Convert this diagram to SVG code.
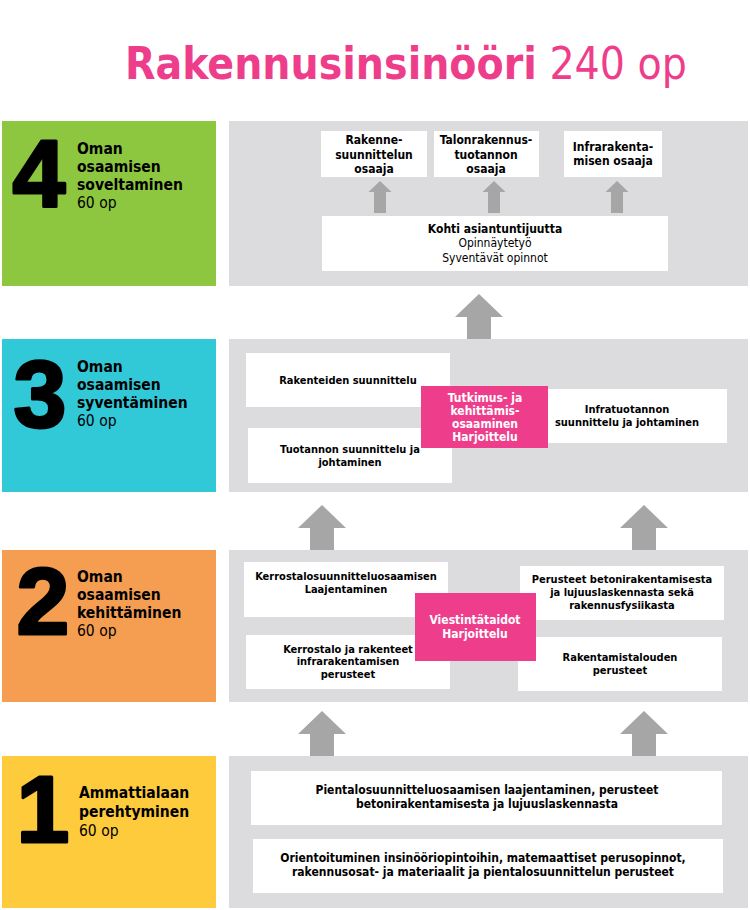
<svg xmlns="http://www.w3.org/2000/svg" xmlns:xlink="http://www.w3.org/1999/xlink" width="750" height="910" viewBox="0 0 750 910">
<style>
text{font-family:"DejaVu Sans Condensed","DejaVu Sans",Verdana,sans-serif;fill:#000}
.b{font-weight:bold}
.c{text-anchor:middle}
.t11{font-size:11px;font-weight:bold}
.t12{font-size:12px}
.pk{fill:#fff;font-size:12px;font-weight:bold}
.lvl{font-size:15.5px}
.dig{font-family:"Liberation Sans",Arial,sans-serif;font-weight:bold;font-size:95px;text-anchor:middle;stroke:#000;stroke-width:3;stroke-linejoin:round}
.panel{fill:#dcdcde}
.wb{fill:#fff}
.pink{fill:#ee3e8b}
.arr{fill:#a6a6a6}
</style>
<defs>
<path id="bigArrow" d="M0,0 L24,23 L12,23 L12,45 L-12,45 L-12,23 L-24,23 Z"/>
<path id="smallArrow" d="M0,0 L11.5,11 L6,11 L6,32 L-6,32 L-6,11 L-11.5,11 Z"/>
</defs>
<rect width="750" height="910" fill="#fff"/>

<g id="title">
<text x="125" y="79" style="font-size:44px;fill:#ee3e8b"><tspan font-weight="bold">Rakennusinsinööri</tspan> 240 op</text>
</g>

<!-- Level 4 -->
<g id="level4">
<rect x="2" y="121" width="214" height="165" fill="#8dc63f"/>
<text class="dig" x="39" y="206">4</text>
<text class="lvl b" x="77" y="154">Oman</text>
<text class="lvl b" x="77" y="172">osaamisen</text>
<text class="lvl b" x="77" y="190">soveltaminen</text>
<text class="lvl" x="77" y="208">60 op</text>
</g>
<rect id="panel4" class="panel" x="229" y="121" width="519" height="165"/>
<g id="rakennesuunnittelun">
<rect class="wb" x="321" y="131" width="106" height="46"/>
<text class="t12 b c" x="374" y="144">Rakenne-</text>
<text class="t12 b c" x="374" y="159">suunnittelun</text>
<text class="t12 b c" x="374" y="173">osaaja</text>
</g>
<g id="talonrakennus">
<rect class="wb" x="434" y="131" width="105" height="46"/>
<text class="t12 b c" x="486" y="144">Talonrakennus-</text>
<text class="t12 b c" x="486" y="159">tuotannon</text>
<text class="t12 b c" x="486" y="173">osaaja</text>
</g>
<g id="infrarakentaminen">
<rect class="wb" x="564" y="131" width="98" height="46"/>
<text class="t12 b c" x="613" y="151">Infrarakenta-</text>
<text class="t12 b c" x="613" y="165">misen osaaja</text>
</g>
<g id="kohti">
<rect class="wb" x="322" y="216" width="346" height="55"/>
<text class="t12 b c" x="495" y="233">Kohti asiantuntijuutta</text>
<text class="t12 c" x="495" y="247">Opinnäytetyö</text>
<text class="t12 c" x="495" y="262">Syventävät opinnot</text>
</g>

<!-- Level 3 -->
<g id="level3">
<rect x="2" y="339" width="214" height="153" fill="#31c8d8"/>
<text class="dig" x="40" y="427">3</text>
<text class="lvl b" x="77" y="372">Oman</text>
<text class="lvl b" x="77" y="390">osaamisen</text>
<text class="lvl b" x="77" y="408">syventäminen</text>
<text class="lvl" x="77" y="426">60 op</text>
</g>
<rect id="panel3" class="panel" x="229" y="339" width="519" height="153"/>
<g id="rakenteiden">
<rect class="wb" x="246" y="353" width="204" height="54"/>
<text class="t11 c" x="348" y="384">Rakenteiden suunnittelu</text>
</g>
<g id="tuotannon">
<rect class="wb" x="248" y="428" width="204" height="55"/>
<text class="t11 c" x="350" y="453">Tuotannon suunnittelu ja</text>
<text class="t11 c" x="350" y="466">johtaminen</text>
</g>
<g id="infratuotannon">
<rect class="wb" x="545" y="389" width="182" height="54"/>
<text class="t11 c" x="627" y="413">Infratuotannon</text>
<text class="t11 c" x="627" y="426">suunnittelu ja johtaminen</text>
</g>
<g id="tutkimus">
<rect class="pink" x="421" y="386" width="127" height="62"/>
<text class="pk c" x="485" y="402">Tutkimus- ja</text>
<text class="pk c" x="485" y="415">kehittämis-</text>
<text class="pk c" x="485" y="428">osaaminen</text>
<text class="pk c" x="485" y="441">Harjoittelu</text>
</g>

<!-- Level 2 -->
<g id="level2">
<rect x="2" y="550" width="214" height="152" fill="#f59d50"/>
<text class="dig" x="43" y="634">2</text>
<text class="lvl b" x="77" y="582">Oman</text>
<text class="lvl b" x="77" y="600">osaamisen</text>
<text class="lvl b" x="77" y="618">kehittäminen</text>
<text class="lvl" x="77" y="636">60 op</text>
</g>
<rect id="panel2" class="panel" x="229" y="550" width="519" height="152"/>
<g id="kerrostalosuunnittelu">
<rect class="wb" x="244" y="562" width="204" height="55"/>
<text class="t11 c" x="346" y="580">Kerrostalosuunnitteluosaamisen</text>
<text class="t11 c" x="346" y="593">Laajentaminen</text>
</g>
<g id="kerrostalo">
<rect class="wb" x="246" y="635" width="204" height="54"/>
<text class="t11 c" x="348" y="653">Kerrostalo ja rakenteet</text>
<text class="t11 c" x="348" y="665">infrarakentamisen</text>
<text class="t11 c" x="348" y="678">perusteet</text>
</g>
<g id="betoni">
<rect class="wb" x="520" y="566" width="204" height="54"/>
<text class="t11 c" x="622" y="583">Perusteet betonirakentamisesta</text>
<text class="t11 c" x="622" y="596">ja lujuuslaskennasta sekä</text>
<text class="t11 c" x="622" y="609">rakennusfysiikasta</text>
</g>
<g id="rakentamistalous">
<rect class="wb" x="518" y="637" width="204" height="54"/>
<text class="t11 c" x="620" y="661">Rakentamistalouden</text>
<text class="t11 c" x="620" y="674">perusteet</text>
</g>
<g id="viestinta">
<rect class="pink" x="415" y="593" width="121" height="68"/>
<text class="pk c" x="475" y="624">Viestintätaidot</text>
<text class="pk c" x="475" y="638">Harjoittelu</text>
</g>

<!-- Level 1 -->
<g id="level1">
<rect x="2" y="756" width="214" height="152" fill="#fdcb3c"/>
<text class="dig" x="43" y="842">1</text>
<text class="lvl b" x="79" y="798">Ammattialaan</text>
<text class="lvl b" x="79" y="817">perehtyminen</text>
<text class="lvl" x="79" y="836">60 op</text>
</g>
<rect id="panel1" class="panel" x="229" y="756" width="519" height="152"/>
<g id="pientalo">
<rect class="wb" x="251" y="771" width="471" height="54"/>
<text class="t12 b c" x="487" y="794">Pientalosuunnitteluosaamisen laajentaminen, perusteet</text>
<text class="t12 b c" x="487" y="808">betonirakentamisesta ja lujuuslaskennasta</text>
</g>
<g id="orientoituminen">
<rect class="wb" x="253" y="839" width="470" height="54"/>
<text class="t12 b c" x="483" y="862">Orientoituminen insinööriopintoihin, matemaattiset perusopinnot,</text>
<text class="t12 b c" x="483" y="876">rakennusosat- ja materiaalit ja pientalosuunnittelun perusteet</text>
</g>

<g id="connectors" class="arr">
<use xlink:href="#smallArrow" x="380" y="181"/>
<use xlink:href="#smallArrow" x="494" y="181"/>
<use xlink:href="#smallArrow" x="617" y="181"/>
<use xlink:href="#bigArrow" x="479" y="294"/>
<use xlink:href="#bigArrow" x="322" y="505"/>
<use xlink:href="#bigArrow" x="644" y="505"/>
<use xlink:href="#bigArrow" x="322" y="711"/>
<use xlink:href="#bigArrow" x="644" y="711"/>
</g>
</svg>
